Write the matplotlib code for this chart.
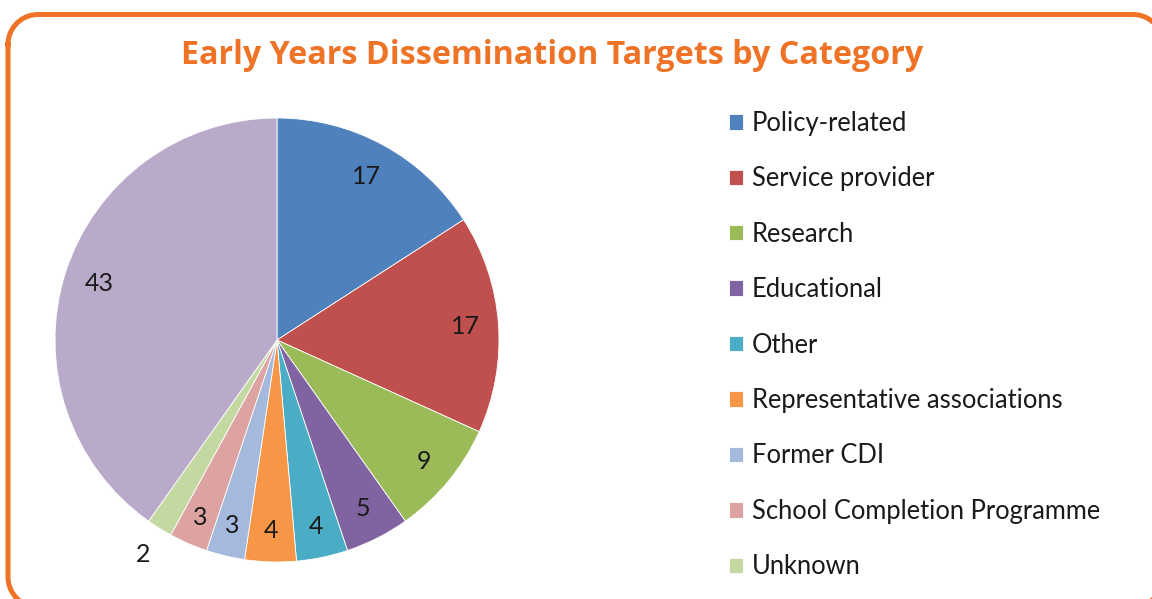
import numpy as np
import matplotlib
matplotlib.use("Agg")
from matplotlib import pyplot as plt

# data
categories = ["Policy-related", "Service provider", "Research", "Educational",
              "Other", "Representative associations", "Former CDI",
              "School Completion Programme", "Unknown", ""]
values = [17, 17, 9, 5, 4, 4, 3, 3, 2, 43]
colors = ["#4F81BD", "#C0504D", "#9BBB59", "#8064A2", "#4BACC6",
          "#F79646", "#A5B9DD", "#DDA3A3", "#C4D8A2", "#B9AACA"]
label_dist = [0.84, 0.85, 0.86, 0.85, 0.86, 0.86, 0.86, 0.87, 1.14, 0.84]

W, H = 1152, 599
fig = plt.figure(figsize=(W / 100, H / 100), dpi=100)


def rounded_frame(x0, y0, x1, y1, rad, n=20):
    # corner arcs in pixel coords (y down), clockwise from top-left
    pts = []
    corners = [(x0 + rad, y0 + rad, 180, 270), (x1 - rad, y0 + rad, 270, 360),
               (x1 - rad, y1 - rad, 0, 90), (x0 + rad, y1 - rad, 90, 180)]
    for ccx, ccy, a0, a1 in corners:
        t = np.deg2rad(np.linspace(a0, a1, n))
        pts += list(zip(ccx + rad * np.cos(t), ccy + rad * np.sin(t)))
    pts.append(pts[0])
    return np.array(pts)


bg = fig.add_axes([0, 0, 1, 1])
bg.set_xlim(0, W)
bg.set_ylim(H, 0)
bg.axis("off")
fr = rounded_frame(8, 14.5, 1163, 607, 30)
bg.plot(fr[:, 0], fr[:, 1], color="#EE7326", linewidth=3.6,
        solid_joinstyle="round")

fig.text(552 / W, 1 - 56 / H, "Early Years Dissemination Targets by Category",
         ha="center", va="center", color="#EE7326", fontsize=23.2,
         fontweight="bold", family="Open Sans")

# pie, center (277, 340), radius 222 px
cx, cy, r = 277, 340, 222
ax = fig.add_axes([(cx - r) / W, (H - cy - r) / H, 2 * r / W, 2 * r / H])
wedges, _ = ax.pie(values, colors=colors, startangle=90, counterclock=False,
                   radius=1, wedgeprops=dict(edgecolor="white", linewidth=0.6))
ax.set_xlim(-1, 1)
ax.set_ylim(-1, 1)
ax.set_aspect("equal")
ax.axis("off")

for w, v, d in zip(wedges, values, label_dist):
    ang = np.deg2rad((w.theta1 + w.theta2) / 2)
    ax.text(d * np.cos(ang), d * np.sin(ang), str(v), ha="center", va="center",
            fontsize=18, family="Lato", color="#1a1a1a")

leg = fig.legend(wedges[:9], categories[:9], loc="upper left",
                 bbox_to_anchor=(729 / W, 1 - 111 / H), frameon=False,
                 prop=dict(family="Lato", size=18.4), handlelength=0.55,
                 handleheight=0.55, handletextpad=0.35, labelspacing=1.19,
                 borderpad=0, borderaxespad=0)
for t in leg.get_texts():
    t.set_color("#1a1a1a")

fig.savefig("out.png", dpi=100)
